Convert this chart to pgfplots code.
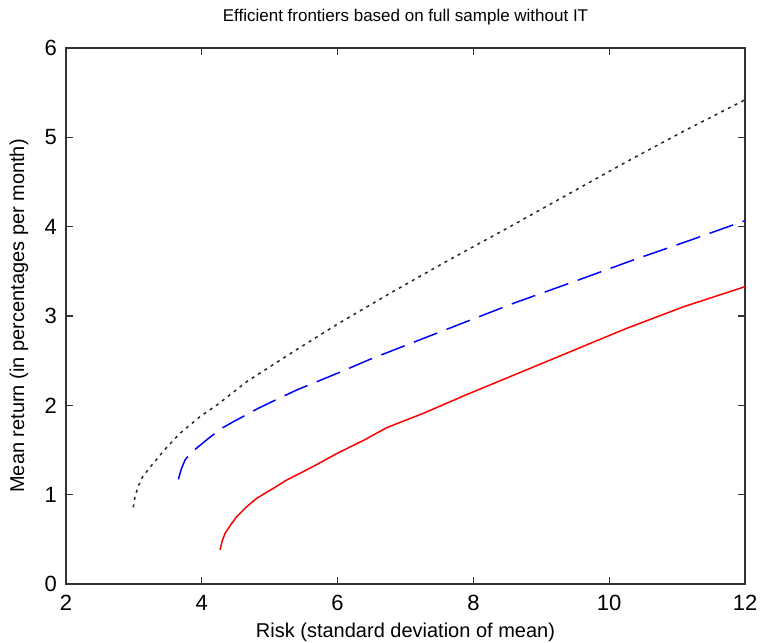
\documentclass[border=0pt]{standalone}
\usepackage{pgfplots}
\pgfplotsset{compat=1.18}
\usepackage{fontspec}
\setmainfont{Liberation Sans}
\begin{document}
\begin{tikzpicture}
\path[use as bounding box] (-66pt,-58pt) rectangle (696pt,584pt);
\begin{axis}[
  scale only axis,
  width=679pt, height=536pt,
  at={(0pt,0pt)}, anchor=south west,
  xmin=2, xmax=12, ymin=0, ymax=6,
  xtick={2,4,...,12}, ytick={0,1,...,6},
  tick align=inside,
  xtick pos=both, ytick pos=both,
  major tick length=7pt,
  axis line style={black!80, line width=1.3pt},
  every tick/.style={black!80, line width=1.3pt},
  /pgf/number format/assume math mode=true,
  xticklabel style={font=\fontsize{22}{24}\selectfont, inner sep=0pt, anchor=north, yshift=-11pt},
  yticklabel style={font=\fontsize{22}{24}\selectfont, inner sep=0pt, anchor=east, xshift=-9pt},
  title={Efficient frontiers based on full sample without IT},
  title style={font=\fontsize{17}{19}\selectfont, at={(axis description cs:0.5,1.039)}, anchor=base, inner sep=0pt},
  xlabel={Risk (standard deviation of mean)},
  xlabel style={font=\fontsize{20}{22}\selectfont, at={(axis description cs:0.5,-0.1007)}, anchor=base, inner sep=0pt},
  ylabel={Mean return (in percentages per month)},
  ylabel style={font=\fontsize{20}{22}\selectfont, at={(axis description cs:-0.0692,0.5)}, anchor=center, inner sep=0pt},
]
% black dotted
\addplot[black!85, line width=1.5pt, dash pattern=on 3pt off 4.5pt] coordinates {
 (2.991,0.858) (3.016,0.977) (3.065,1.097) (3.129,1.201) (3.237,1.306)
 (3.458,1.508) (3.679,1.687) (3.973,1.873) (4.243,2.015) (4.661,2.265)
 (5.348,2.600) (6.000,2.910) (6.772,3.254) (7.600,3.610) (8.539,4.000)
 (9.400,4.365) (10.257,4.727) (11.100,5.070) (12.0,5.42)
};
% blue dashed
\addplot[blue, line width=1.5pt, dash pattern=on 25pt off 10pt] coordinates {
 (3.654,1.172) (3.700,1.290) (3.753,1.388) (3.820,1.450) (3.890,1.500)
 (4.090,1.625) (4.293,1.743) (4.440,1.806) (4.832,1.967) (5.004,2.030)
 (5.398,2.172) (6.000,2.360) (6.477,2.515) (7.607,2.851) (8.600,3.145)
 (9.500,3.390) (10.355,3.627) (11.200,3.850) (12.0,4.067)
};
% red solid
\addplot[red, line width=1.5pt] coordinates {
 (4.268,0.381) (4.300,0.480) (4.342,0.567) (4.440,0.679) (4.514,0.753)
 (4.661,0.865) (4.808,0.959) (5.053,1.071) (5.250,1.164) (5.446,1.239)
 (5.700,1.340) (6.000,1.465) (6.400,1.615) (6.722,1.750) (7.264,1.911)
 (7.900,2.120) (8.600,2.340) (9.400,2.592) (10.257,2.862) (11.100,3.105)
 (12.0,3.328)
};
\end{axis}
\end{tikzpicture}
\end{document}
